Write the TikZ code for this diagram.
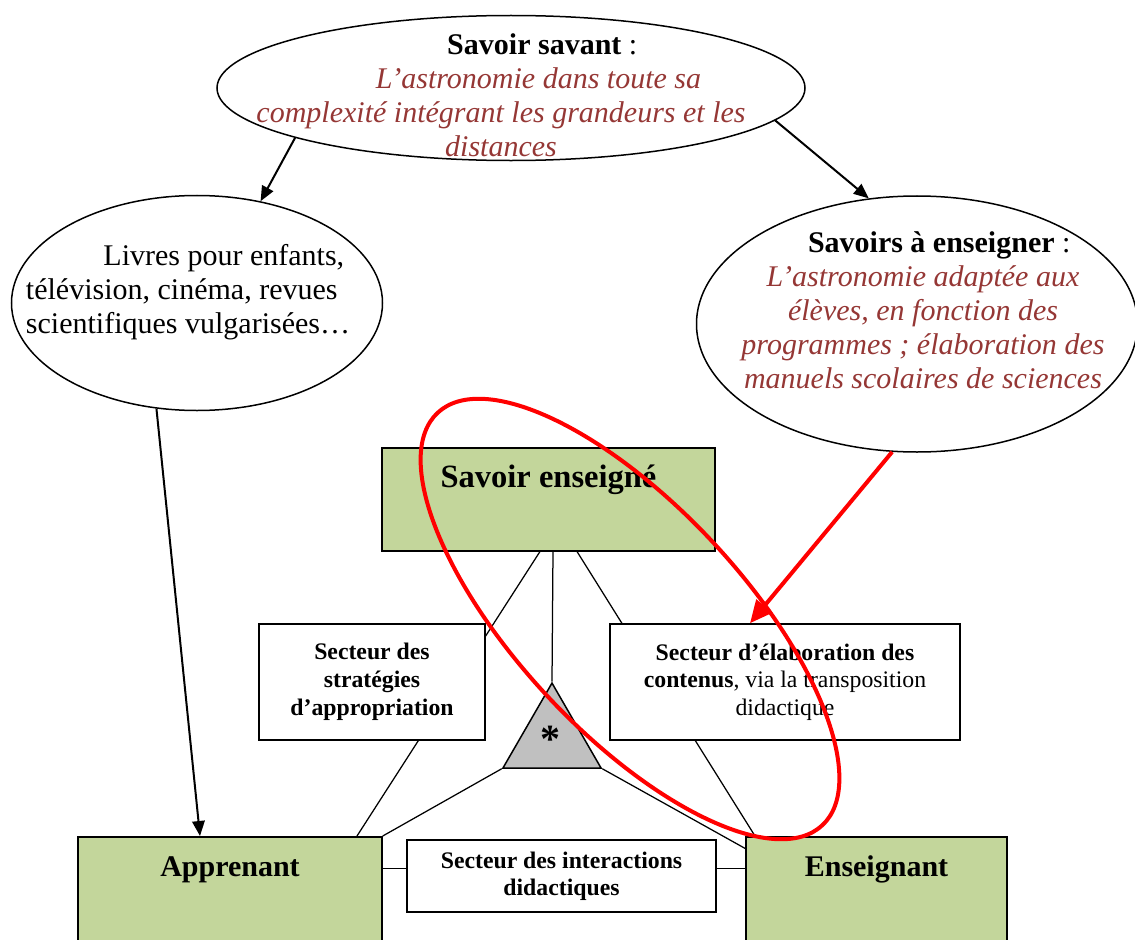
\documentclass[tikz,border=0pt]{standalone}
\usepackage{fontspec}
\setmainfont{Liberation Serif}
\usetikzlibrary{shapes.geometric,arrows.meta,backgrounds}
\definecolor{brique}{HTML}{953735}
\definecolor{vertpale}{HTML}{C3D69B}
\definecolor{grisclair}{HTML}{C0C0C0}

\begin{document}
\begin{tikzpicture}[x=0.4pt, y=-0.4pt,
    bulle/.style={draw, ellipse, line width=0.6pt, inner sep=0pt},
    texte/.style={align=center, inner sep=0pt, font=\fontsize{12}{13.6}\selectfont},
    savoir/.style={texte, text=brique, font=\fontsize{12}{13.6}\selectfont\itshape},
    boitevert/.style={draw, fill=vertpale, line width=0.6pt, inner sep=0pt, anchor=north,
      text height=16pt, font=\fontsize{12}{14}\selectfont\bfseries},
    secteur/.style={draw, fill=white, line width=0.6pt, align=center, inner sep=0pt,
      minimum height=46.4pt, font=\fontsize{9.5}{11}\selectfont},
    lien/.style={line width=0.5pt},
    fleche/.style={line width=0.8pt, -{Triangle[length=6pt,width=5pt]}}]
  \useasboundingbox (0,0) rectangle (1135,940);
  \clip (0,0) rectangle (1135,940);

  \node[bulle, minimum width=235.2pt, minimum height=58pt] (savant) at (511,88) {};
  \node[savoir] (savanttxt) at (501,95)
    {\hspace*{33pt}\textcolor{black}{\upshape\bfseries Savoir savant \mdseries:}\\
     \hspace*{30pt}L'astronomie dans toute sa\\
     complexité intégrant les grandeurs et les\\
     distances};

  \node[bulle, minimum width=148.4pt, minimum height=86pt] (livres) at (197,303) {};
  \node[texte, align=left] (livrestxt) at (188,292)
    {\hspace*{31pt}Livres pour enfants,\\
     télévision, cinéma, revues\\
     scientifiques vulgarisées…};

  \node[bulle, minimum width=176.4pt, minimum height=102.4pt] (enseigner) at (917,324) {};
  \node[savoir] (enseignertxt) at (923,310)
    {\hspace*{13pt}\textcolor{black}{\upshape\bfseries Savoirs à enseigner \mdseries:}\\
     L'astronomie adaptée aux\\
     élèves, en fonction des\\
     programmes ; élaboration des\\
     manuels scolaires de sciences};

  \node[boitevert, minimum width=133.2pt, text depth=25.2pt,
    font=\fontsize{13}{15}\selectfont\bfseries] (enseigne) at (548.5,447) {Savoir enseigné};
  \node[boitevert, minimum width=121.6pt, text depth=42pt] (apprenant) at (230,836) {Apprenant};
  \node[boitevert, minimum width=104.4pt, text depth=42pt] (enseignant) at (876.5,836) {Enseignant};

  \node[secteur, minimum width=90.4pt, font=\fontsize{9.5}{11.2}\selectfont\bfseries] (strategies) at (372,682)
    {Secteur des\\ stratégies\\ d'appropriation};
  \node[secteur, minimum width=140pt] (contenus) at (785,682)
    {\textbf{Secteur d'élaboration des}\\ \textbf{contenus}, via la transposition\\ didactique};
  \node[secteur, minimum width=123.6pt, minimum height=28.8pt,
    font=\fontsize{9.5}{10.8}\selectfont\bfseries] (interactions) at (561.5,876)
    {Secteur des interactions\\ didactiques};

  \node[draw, regular polygon, regular polygon sides=3, fill=grisclair, minimum size=45.3pt,
    inner sep=0pt, line width=0.6pt, font=\fontsize{16}{16}\selectfont\bfseries] (triangle) at (552,739.7)
    {\hspace*{-1.5pt}\raisebox{-1.5pt}{*}};

  \begin{scope}[on background layer]
    \draw[lien] ([xshift=-3.4pt]enseigne.south) -- ([xshift=50.8pt]apprenant.north);
    \draw[lien] ([xshift=11.4pt]enseigne.south) -- ([xshift=-48.6pt]enseignant.north);
    \draw[lien] ([xshift=1.8pt]enseigne.south) -- (triangle.corner 1);
    \draw[lien] (triangle.corner 2) -- (apprenant.north east);
    \draw[lien] (triangle.corner 3) -- ([yshift=-5pt]enseignant.north west);
    \draw[lien] ([yshift=16.2pt]apprenant.east) -- ([yshift=16.2pt]enseignant.west);
  \end{scope}

  \draw[fleche] (savant.193) -- (livres.58);
  \draw[fleche] (savant.-7) -- (enseigner.111);
  \draw[fleche] (livres.249) -- ([xshift=-12pt]apprenant.north);
  \draw[red, line width=1.6pt, -{Triangle[length=9pt,width=8pt]}] (enseigner.259) -- ([xshift=-14pt]contenus.north);

  \node[draw=red, line width=1.6pt, ellipse, rotate=-47, minimum width=225.6pt, minimum height=90.4pt,
    inner sep=0pt] (focus) at (630,619) {};
\end{tikzpicture}
\end{document}
